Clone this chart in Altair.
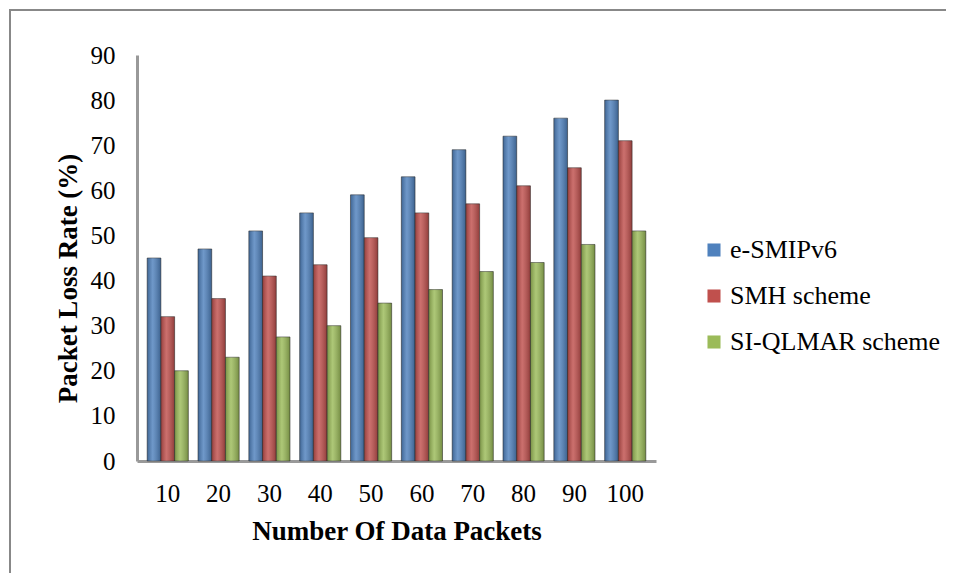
import altair as alt
import pandas as pd

packets = [10, 20, 30, 40, 50, 60, 70, 80, 90, 100]
series = ["e-SMIPv6", "SMH scheme", "SI-QLMAR scheme"]
esmipv6 = [45, 47, 51, 55, 59, 63, 69, 72, 76, 80]
smh = [32, 36, 41, 43.5, 49.5, 55, 57, 61, 65, 71]
siqlmar = [20, 23, 27.5, 30, 35, 38, 42, 44, 48, 51]
colors = ["#4F81BD", "#C0504D", "#9BBB59"]

rows = []
for name, vals in zip(series, [esmipv6, smh, siqlmar]):
    for p, v in zip(packets, vals):
        rows.append({"packets": str(p), "series": name, "value": v})
df = pd.DataFrame(rows)

FONT = "Liberation Serif"

xenc = alt.X("packets:N", sort=[str(p) for p in packets],
             scale=alt.Scale(paddingInner=0.19, paddingOuter=0.2),
             axis=alt.Axis(title="Number Of Data Packets", labelAngle=0, ticks=False,
                           domainColor="#999999", domainWidth=3, labelPadding=20,
                           titlePadding=12))
xoff = alt.XOffset("series:N", sort=series)
yenc = alt.Y("value:Q", scale=alt.Scale(domain=[0, 90]),
             axis=alt.Axis(title="Packet Loss Rate (%)", values=list(range(0, 91, 10)),
                           grid=False, ticks=False, domainColor="#999999", domainWidth=3,
                           labelPadding=22, titlePadding=8, titleY=223))

bars = alt.Chart(df).mark_bar(strokeWidth=0.8, strokeOpacity=0.7, stroke="#333333").encode(
    x=xenc, xOffset=xoff, y=yenc,
    color=alt.Color("series:N", sort=series,
                    scale=alt.Scale(domain=series, range=colors),
                    legend=alt.Legend(title=None, orient="none", legendX=564, legendY=182,
                                      symbolType="square", symbolSize=170,
                                      symbolStrokeWidth=0, rowPadding=20, labelLimit=0,
                                      labelFontSize=26, labelFont=FONT, labelOffset=3,
                                      labelColor="#000000")),
)

shade = alt.Chart(df).mark_bar(
    color={"gradient": "linear", "x1": 0, "x2": 1, "y1": 0, "y2": 0,
           "stops": [{"offset": 0, "color": "rgba(0,0,0,0.22)"},
                     {"offset": 0.4, "color": "rgba(255,255,255,0.18)"},
                     {"offset": 1, "color": "rgba(0,0,0,0.25)"}]}
).encode(x=xenc, xOffset=xoff, y=yenc, detail="series:N")

frame = alt.Chart(df).mark_rect(fill=None, stroke="#888888", strokeWidth=2).encode(
    x=alt.value(-127), x2=alt.value(850), y=alt.value(-45), y2=alt.value(600)
)

chart = alt.layer(frame, bars, shade).properties(
    width=519, height=406,
    padding={"left": 129, "top": 47, "right": 290, "bottom": 112},
    autosize=alt.AutoSizeParams(type="none"),
).configure_view(stroke=None).configure_axis(
    labelFont=FONT, titleFont=FONT, labelFontSize=25, titleFontSize=27,
    labelColor="#000000", titleColor="#000000", labelFontWeight="normal",
    titleFontWeight="bold",
)

chart.save("out.html", embed_options={"renderer": "svg", "actions": False})
